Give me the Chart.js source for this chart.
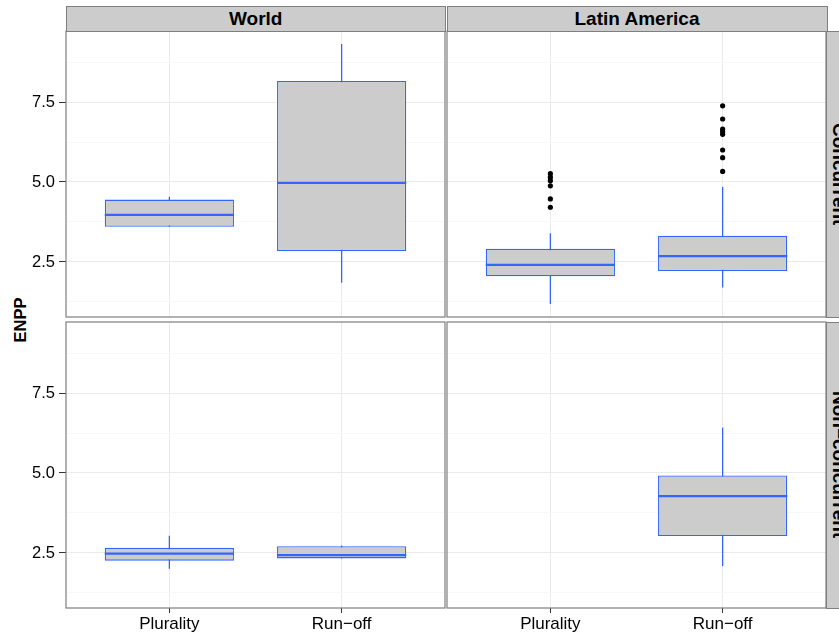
<!DOCTYPE html>
<html>
<head>
<meta charset="utf-8">
<script src="https://cdn.jsdelivr.net/npm/chart.js@4.4.1/dist/chart.umd.min.js"></script>
<style>
html, body { margin:0; padding:0; background:#fff; }
body { width:839px; height:632px; overflow:hidden; position:relative; font-family:"Liberation Sans", Arial, Helvetica, sans-serif; }
.cv { position:absolute; }
.strip { position:absolute; background:#cccccc; box-sizing:border-box; border:1.2px solid #7f7f7f; font-weight:bold; font-size:19px; color:#000; display:flex; align-items:center; justify-content:center; z-index:2; white-space:nowrap; }
.vstrip { writing-mode:vertical-rl; }
.ytitle { position:absolute; left:20px; top:320px; transform:translate(-50%,-50%) rotate(-90deg); font-weight:bold; font-size:16.5px; color:#000; white-space:nowrap; }
</style>
</head>
<body>
<div class="strip" id="colStrip0" style="left:65.5px;top:6px;width:380.5px;height:26px;"></div>
<div class="strip" id="colStrip1" style="left:446.5px;top:6px;width:381px;height:26px;"></div>
<div class="strip vstrip" id="rowStrip0" style="left:826px;top:30.5px;width:26px;height:287.5px;"></div>
<div class="strip vstrip" id="rowStrip1" style="left:826px;top:321.5px;width:26px;height:287px;"></div>
<div class="ytitle" id="yTitle"></div>

<canvas class="cv" id="pTL" style="left:0px;top:30px;" width="446" height="288"></canvas>
<canvas class="cv" id="pTR" style="left:446px;top:30px;" width="382" height="288"></canvas>
<canvas class="cv" id="pBL" style="left:0px;top:321px;" width="446" height="311"></canvas>
<canvas class="cv" id="pBR" style="left:446px;top:321px;" width="382" height="311"></canvas>

<script>
// ---------- data ----------
const categories = ['Plurality', 'Run\u2212off'];
const columnLabels = ['World', 'Latin America'];
const rowLabels = ['Concurrent', 'Non\u2212concurrent'];
const yAxisTitle = 'ENPP';
const yTicks = [2.5, 5.0, 7.5];
const yMinorTicks = [1.25, 3.75, 6.25, 8.75];
const yRange = [0.78, 9.72];

// box statistics per category: [lower whisker, Q1, median, Q3, upper whisker]
const worldConcurrent = [[3.60, 3.60, 3.97, 4.45, 4.54], [1.85, 2.84, 4.97, 8.16, 9.31]];
const latinConcurrent = [[1.19, 2.05, 2.41, 2.91, 3.40], [1.70, 2.22, 2.68, 3.32, 4.84]];
const worldNonConcurrent = [[2.01, 2.26, 2.48, 2.66, 3.04], [2.33, 2.33, 2.43, 2.71, 2.73]];
const latinNonConcurrent = [null, [2.09, 3.03, 4.28, 4.92, 6.42]];

// outliers per category
const latinConcurrentOutliers = [
  [5.26, 5.15, 5.04, 4.88, 4.47, 4.21],
  [7.38, 6.97, 6.65, 6.57, 6.49, 6.00, 5.76, 5.33]
];

// ---------- style ----------
const BLUE = '#3366FF';
const BOX_FILL = '#CCCCCC';
const BOX_WIDTH = 0.75;
const FONT = '"Liberation Sans", Arial, Helvetica, sans-serif';

document.getElementById('colStrip0').textContent = columnLabels[0];
document.getElementById('colStrip1').textContent = columnLabels[1];
document.getElementById('rowStrip0').textContent = rowLabels[0];
document.getElementById('rowStrip1').textContent = rowLabels[1];
document.getElementById('yTitle').textContent = yAxisTitle;

function buildDatasets(stats, outliers) {
  const whisker = [], boxes = [], medians = [];
  stats.forEach((s, i) => {
    if (!s) return;
    const x = i + 1;
    whisker.push({x: x, y: s[0]}, {x: x, y: s[4]}, {x: x + 0.5, y: null});
    boxes.push({x: x, y: [s[1], s[3]]});
    medians.push({x: x - BOX_WIDTH / 2, y: s[2]}, {x: x + BOX_WIDTH / 2, y: s[2]}, {x: x + 0.5, y: null});
  });
  const sets = [
    {type: 'line', data: whisker, borderColor: BLUE, borderWidth: 1.3, pointRadius: 0, spanGaps: false, order: 4},
    {type: 'bar', data: boxes, backgroundColor: BOX_FILL, borderColor: BLUE, borderWidth: 1.3,
     borderSkipped: false, grouped: false, categoryPercentage: 1, barPercentage: BOX_WIDTH, order: 3},
    {type: 'line', data: medians, borderColor: BLUE, borderWidth: 2.2, pointRadius: 0, spanGaps: false, order: 2}
  ];
  if (outliers) {
    const pts = [];
    outliers.forEach((arr, i) => arr.forEach(v => pts.push({x: i + 1, y: v})));
    sets.push({type: 'scatter', data: pts, backgroundColor: '#000', borderWidth: 0, pointRadius: 2.6, order: 1});
  }
  return sets;
}

const borderPlugin = {
  id: 'panelBorder',
  afterDraw(chart) {
    const a = chart.chartArea, ctx = chart.ctx;
    ctx.save();
    ctx.strokeStyle = '#7f7f7f';
    ctx.lineWidth = 1.2;
    ctx.strokeRect(a.left, a.top, a.right - a.left, a.bottom - a.top);
    ctx.restore();
  }
};

function zeroPadding(scale) {
  scale.paddingTop = 0; scale.paddingBottom = 0; scale.paddingLeft = 0; scale.paddingRight = 0;
}

function makePanel(id, stats, outliers, showY, showX, padding) {
  const allY = yTicks.concat(yMinorTicks).sort((a, b) => a - b);
  new Chart(document.getElementById(id), {
    type: 'bar',
    data: { datasets: buildDatasets(stats, outliers) },
    options: {
      responsive: false,
      animation: false,
      events: [],
      layout: { padding: padding, autoPadding: false },
      plugins: { legend: { display: false }, tooltip: { enabled: false }, title: { display: false } },
      scales: {
        x: {
          type: 'linear', min: 0.4, max: 2.6, offset: false,
          afterBuildTicks: (scale) => { scale.ticks = categories.map((c, i) => ({value: i + 1})); },
          afterFit: (scale) => { scale.height = showX ? 24 : 0; zeroPadding(scale); },
          border: { display: false },
          grid: { offset: false, color: '#EBEBEB', lineWidth: 1, drawTicks: showX, tickLength: 5, tickColor: '#333' },
          ticks: {
            display: showX, autoSkip: false, maxRotation: 0, minRotation: 0, padding: 1, color: '#000',
            font: { family: FONT, size: 17 },
            callback: (v) => categories[Math.round(v) - 1]
          }
        },
        y: {
          type: 'linear', min: yRange[0], max: yRange[1],
          afterBuildTicks: (scale) => { scale.ticks = allY.map(v => ({value: v})); },
          afterFit: (scale) => { scale.width = showY ? 66 : 0; zeroPadding(scale); },
          border: { display: false },
          grid: {
            color: (ctx) => (ctx.tick && yTicks.includes(ctx.tick.value)) ? '#EBEBEB' : '#F8F8F8',
            lineWidth: 1,
            drawTicks: showY, tickLength: 7,
            tickColor: (ctx) => (ctx.tick && yTicks.includes(ctx.tick.value)) ? '#333' : 'rgba(0,0,0,0)'
          },
          ticks: {
            display: showY, autoSkip: false, padding: 4, color: '#000',
            font: { family: FONT, size: 16.5 },
            callback: (v) => yTicks.includes(v) ? v.toFixed(1) : ''
          }
        }
      }
    },
    plugins: [borderPlugin]
  });
}

makePanel('pTL', worldConcurrent, null, true, false, {top: 1, right: 1, bottom: 1, left: 0});
makePanel('pTR', latinConcurrent, latinConcurrentOutliers, false, false, {top: 1, right: 2, bottom: 1, left: 1});
makePanel('pBL', worldNonConcurrent, null, true, true, {top: 1, right: 1, bottom: 0, left: 0});
makePanel('pBR', latinNonConcurrent, null, false, true, {top: 1, right: 2, bottom: 0, left: 1});
</script>
</body>
</html>
